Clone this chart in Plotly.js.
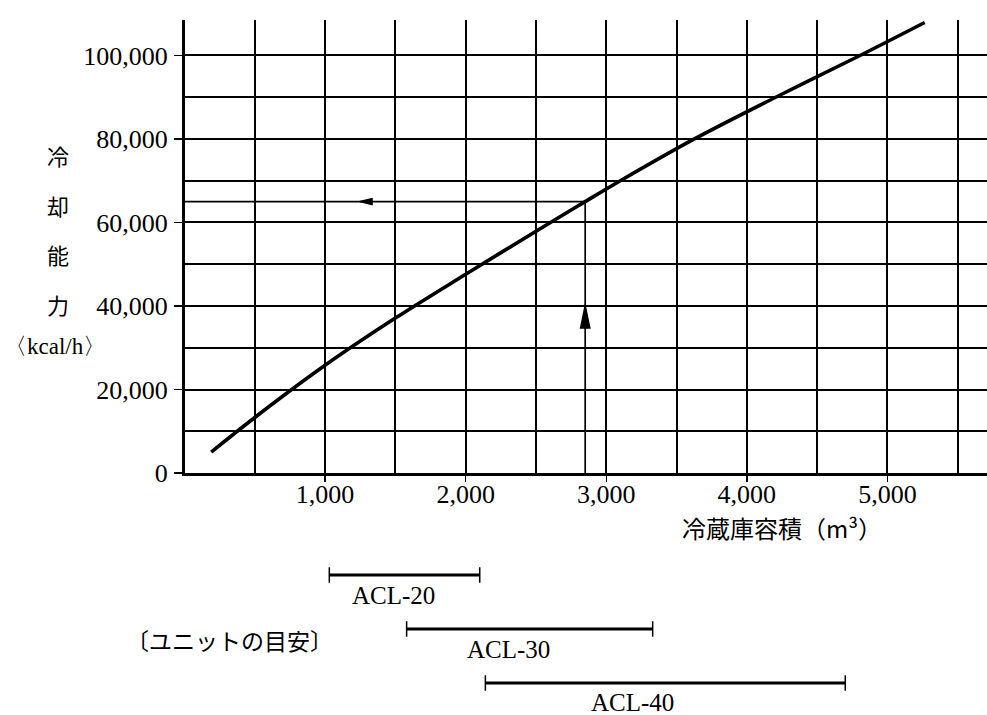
<!DOCTYPE html>
<html><head><meta charset="utf-8">
<script src="https://cdn.plot.ly/plotly-3.0.1.min.js"></script>
<style>html,body{margin:0;padding:0;background:#fff;}#chart{width:987px;height:715px;}</style>
</head><body><div id="chart"></div>
<script>
// Cooling capacity curve (kcal/h) vs cold-storage volume (m3)
const volume   = [190, 500, 1000, 1500, 2000, 2600, 2850, 3100, 3620, 4205, 4805, 5265];
const capacity = [5000, 13300, 25800, 37100, 47600, 59950, 65000, 70000, 79900, 90000, 100000, 107900];

// Example reading (arrows)
const exampleVolume = 2850;
const exampleCapacity = 65000;

// Unit guide ranges
const unitNames = ['ACL-20', 'ACL-30', 'ACL-40'];
const unitMin   = [1030, 1580, 2140];
const unitMax   = [2100, 3330, 4700];

// Ticks
const xTickVals = [1000, 2000, 3000, 4000, 5000];
const xTickText = ['1,000', '2,000', '3,000', '4,000', '5,000'];
const yTickVals = [0, 20000, 40000, 60000, 80000, 100000];
const yTickText = ['0', '20,000', '40,000', '60,000', '80,000', '100,000'];

// Texts
const yTitleChars = ['冷', '却', '能', '力'];
const yTitleUnit  = '〈kcal/h〉';
const xTitle      = '冷蔵庫容積（m³）';
const unitCaption = '〔ユニットの目安〕';

// ---- layout helpers (pixel -> paper) ----
const W = 987, H = 715;
const px = v => v / W;
const py = v => 1 - v / H;
const serif = "'Liberation Serif', 'DejaVu Serif', serif";
const jp = "'Noto Sans CJK JP', sans-serif";

const traces = [];
traces.push({
  x: volume, y: capacity, type: 'scatter', mode: 'lines',
  line: {color: '#000', width: 3.6, shape: 'spline', smoothing: 1},
  xaxis: 'x', yaxis: 'y', hoverinfo: 'skip', showlegend: false
});
traces.push({
  x: [exampleVolume, exampleVolume], y: [0, exampleCapacity], type: 'scatter', mode: 'lines',
  line: {color: '#000', width: 1.7}, xaxis: 'x', yaxis: 'y', showlegend: false
});
traces.push({
  x: [exampleVolume, 0], y: [exampleCapacity, exampleCapacity], type: 'scatter', mode: 'lines',
  line: {color: '#000', width: 1.7}, xaxis: 'x', yaxis: 'y', showlegend: false
});
unitNames.forEach((n, i) => {
  traces.push({
    x: [unitMin[i], unitMax[i]], y: [i + 1, i + 1], type: 'scatter', mode: 'lines+markers',
    name: n, line: {color: '#000', width: 3},
    marker: {symbol: 'line-ns-open', size: 11, color: '#000', line: {color: '#000', width: 1.5}},
    xaxis: 'x2', yaxis: 'y2', showlegend: false
  });
});

const labelX = [1483, 2308, 3183];
const annotations = [];
yTitleChars.forEach((c, i) => {
  annotations.push({text: c, xref: 'paper', yref: 'paper', x: px(58), y: py(155 + i * 49.5),
    showarrow: false, xanchor: 'center', yanchor: 'middle', font: {family: jp, size: 22, color: '#000'}});
});
annotations.push({text: yTitleUnit, xref: 'paper', yref: 'paper', x: px(55), y: py(347),
  showarrow: false, xanchor: 'center', yanchor: 'middle', font: {family: serif, size: 23, color: '#000'}});
annotations.push({text: xTitle, xref: 'paper', yref: 'paper', x: px(680), y: py(527),
  showarrow: false, xanchor: 'left', yanchor: 'middle', font: {family: jp, size: 24, color: '#000'}});
annotations.push({text: unitCaption, xref: 'paper', yref: 'paper', x: px(229), y: py(640),
  showarrow: false, xanchor: 'center', yanchor: 'middle', font: {family: jp, size: 23, color: '#000'}});
unitNames.forEach((n, i) => {
  annotations.push({text: n, xref: 'x', yref: 'y2', x: labelX[i], y: i + 1, yshift: -20,
    showarrow: false, xanchor: 'center', yanchor: 'middle', font: {family: serif, size: 25, color: '#000'}});
});

const shapes = [
  {type: 'path', xref: 'x', yref: 'y', xsizemode: 'pixel', ysizemode: 'pixel',
   xanchor: exampleVolume, yanchor: 41000, path: 'M0,0 L-5.5,-27 L5.5,-27 Z',
   fillcolor: '#000', line: {width: 0}},
  {type: 'path', xref: 'x', yref: 'y', xsizemode: 'pixel', ysizemode: 'pixel',
   xanchor: 1225, yanchor: exampleCapacity, path: 'M0,0 L16,3.8 L16,-3.8 Z',
   fillcolor: '#000', line: {width: 0}}
];

const gw = 2;
const xDomain = [px(184.5), 1];
const layout = {
  width: W, height: H,
  margin: {l: 0, r: 0, t: 0, b: 0, pad: 0},
  paper_bgcolor: '#fff', plot_bgcolor: '#fff',
  showlegend: false,
  xaxis: {
    domain: xDomain, anchor: 'y', range: [0, 5708], autorange: false,
    tickmode: 'array', tickvals: xTickVals, ticktext: xTickText,
    ticks: 'outside', ticklen: 6, tickwidth: 1.5, tickcolor: '#000', ticklabelstandoff: -10,
    tickfont: {family: serif, size: 26, color: '#000'},
    showgrid: true, gridcolor: '#000', gridwidth: gw,
    minor: {tickmode: 'linear', tick0: 0, dtick: 500, showgrid: true, gridcolor: '#000', gridwidth: gw, ticks: ''},
    showline: true, linecolor: '#000', linewidth: 2.5, zeroline: false, fixedrange: true
  },
  yaxis: {
    domain: [py(473), py(20)], anchor: 'x', range: [0, 108500], autorange: false,
    tickmode: 'array', tickvals: yTickVals, ticktext: yTickText,
    ticks: 'outside', ticklen: 8, tickwidth: 1.5, tickcolor: '#000', ticklabelstandoff: 1,
    tickfont: {family: serif, size: 26, color: '#000'},
    showgrid: true, gridcolor: '#000', gridwidth: gw,
    minor: {tickmode: 'linear', tick0: 0, dtick: 10000, showgrid: true, gridcolor: '#000', gridwidth: gw, ticks: ''},
    showline: true, linecolor: '#000', linewidth: 2.5, zeroline: false, fixedrange: true
  },
  xaxis2: {domain: xDomain, anchor: 'y2', matches: 'x', visible: false, showgrid: false, zeroline: false},
  yaxis2: {domain: [0, py(560)], anchor: 'x2', range: [3.593, 0.722], autorange: false,
           visible: false, showgrid: false, zeroline: false},
  annotations: annotations,
  shapes: shapes
};

Plotly.newPlot('chart', traces, layout, {displayModeBar: false, staticPlot: true});
</script>
</body></html>
